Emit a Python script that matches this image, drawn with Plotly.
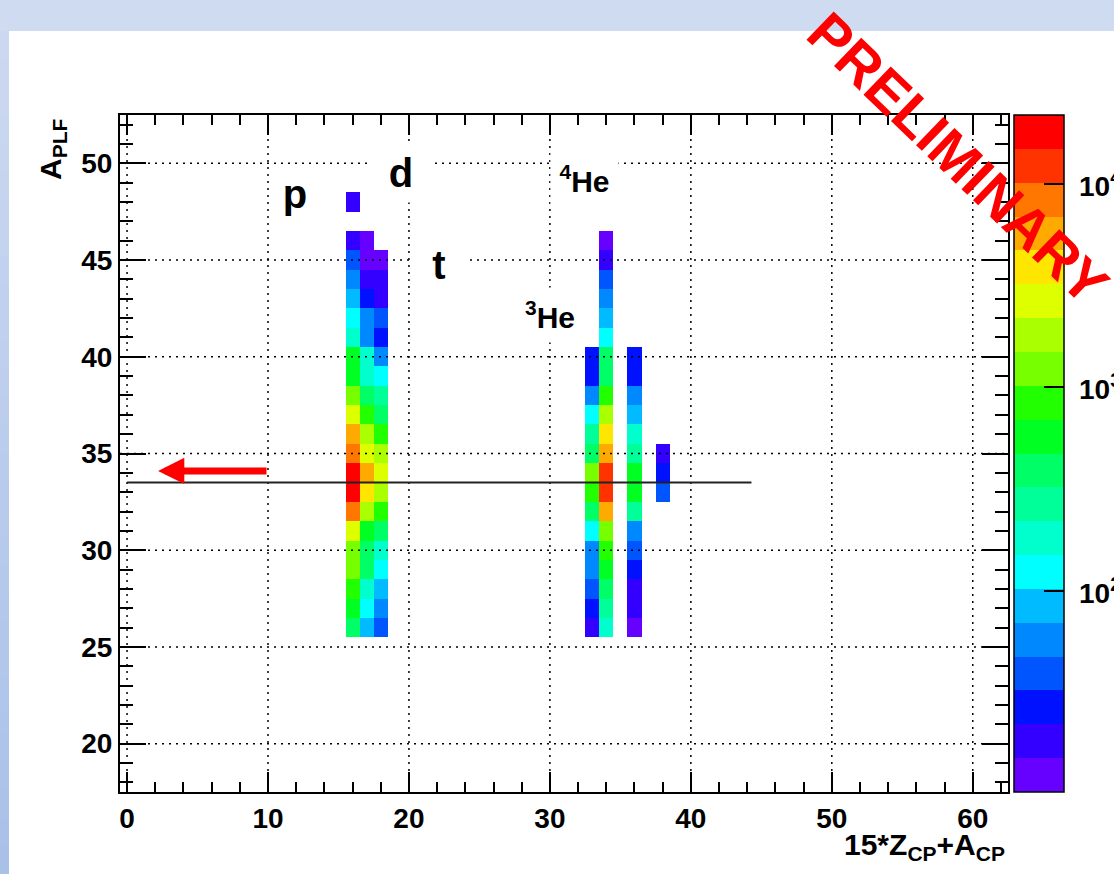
import numpy as np
import plotly.graph_objects as go

# ---------------------------------------------------------------
# Data: counts per (15*Z_CP+A_CP, A_PLF) bin, one list per column,
# listed from the lowest filled A_PLF bin upward.
# ---------------------------------------------------------------
x_bins = list(range(0, 63))          # 15*Z_CP+A_CP bin centres
y_bins = list(range(18, 53))         # A_PLF bin centres

col_x = [16, 17, 18, 33, 34, 36, 38]
col_first_y = [26, 26, 26, 26, 26, 26, 33]

counts_x16 = [390, 560, 830, 1220, 1290, 2600, 8100, 17500, 16800, 7900, 5600,
              2700, 1200, 590, 560, 180, 125, 86, 57, 40, 18, 0, 17]
counts_x17 = [84, 128, 185, 380, 400, 610, 1750, 3900, 5500, 2700, 1850,
              860, 395, 178, 190, 60, 55, 27, 19, 12, 11]
counts_x18 = [38, 56, 88, 120, 175, 385, 820, 1780, 2550, 1700, 870,
              405, 262, 130, 62, 26, 41, 18, 17, 12]
counts_x33 = [18, 26, 40, 55, 60, 122, 385, 810, 1260, 410, 270,
              130, 57, 28, 27]
counts_x34 = [180, 265, 390, 580, 850, 1280, 5800, 12500, 12000, 5600, 3800,
              1820, 830, 380, 400, 126, 83, 59, 38, 19, 12]
counts_x36 = [12, 18, 19, 27, 40, 58, 260, 560, 590, 275, 180,
              85, 57, 27, 28]
counts_x38 = [39, 27, 18]

col_counts = [counts_x16, counts_x17, counts_x18, counts_x33,
              counts_x34, counts_x36, counts_x38]

# colour-axis (log10 of counts) extent and the 20-level rainbow palette
z_min_count = 10.3
z_max_count = 21800
palette = ["#6600ff", "#3300ff", "#0011ff", "#0055ff", "#0088ff",
           "#00bbff", "#00ffff", "#00ffcc", "#00ff99", "#00ff66",
           "#00ff22", "#22ff00", "#77ff00", "#aaff00", "#ddff00",
           "#ffe600", "#ffaa00", "#ff7700", "#ff3300", "#ff0000"]

cbar_major = [100, 1000, 10000]
cbar_major_text = ["10<sup>2</sup>", "10<sup>3</sup>", "10<sup>4</sup>"]

# particle identification labels: (text, x, y, font size, box w, box h)
pid_labels = [("p", 11.92, 48.4, 40, 40, 44),
              ("d", 19.44, 49.50, 40, 64, 58),
              ("t", 22.13, 44.74, 40, 52, 54),
              ("<sup>3</sup>He", 30.00, 42.16, 30, 70, 54),
              ("<sup>4</sup>He", 32.46, 49.19, 30, 67, 54)]

cut_y = 33.5
cut_x_end = 44.3
arrow_tail_x, arrow_tip_x, arrow_y = 10.0, 2.2, 34.1

# ---------------------------------------------------------------
# Build the 2D histogram
# ---------------------------------------------------------------
z = np.full((len(y_bins), len(x_bins)), np.nan)
for cx, y0, vals in zip(col_x, col_first_y, col_counts):
    for k, v in enumerate(vals):
        if v > 0:
            z[y_bins.index(y0 + k), x_bins.index(cx)] = v

logz = np.log10(z)
zmin, zmax = np.log10(z_min_count), np.log10(z_max_count)

n = len(palette)
colorscale = []
for i, c in enumerate(palette):
    colorscale.append([i / n, c])
    colorscale.append([(i + 1) / n, c])

FONT = "Liberation Sans, Arial, Helvetica, sans-serif"

W, H = 1114, 874
L, R, T, B = 120, 106, 115, 82
pw, ph = W - L - R, H - T - B


def px_x(p):
    return (p - L) / pw


def px_y(p):
    return (H - B - p) / ph


def cb_frac(v):
    return (np.log10(v) - zmin) / (zmax - zmin)


fig = go.Figure()
fig.add_trace(go.Heatmap(
    x=x_bins, y=y_bins, z=logz, zmin=zmin, zmax=zmax,
    colorscale=colorscale, hoverinfo="skip",
    colorbar=dict(
        x=px_x(1014), xanchor="left", xref="paper",
        y=0.5, yanchor="middle", len=1, lenmode="fraction",
        thickness=50, thicknessmode="pixels", xpad=0, ypad=0,
        outlinecolor="black", outlinewidth=1.5,
        ticks="inside", ticklen=20, tickwidth=1.5, tickcolor="black",
        tickvals=list(np.log10(cbar_major)), showticklabels=False,
    ),
))

shapes = []
# slide background: white panel with a pale blue frame on the top/left
shapes.append(dict(type="rect", xref="paper", yref="paper",
                   x0=px_x(9), x1=px_x(W + 5), y0=px_y(H + 5), y1=px_y(31),
                   fillcolor="white", line=dict(width=0), layer="below"))
nb = 30
c_top = np.array([0xcd, 0xd9, 0xf0])
c_bot = np.array([0xa9, 0xc1, 0xe9])
for i in range(nb):
    ya = 31 + (H - 31) * i / nb
    yb = 31 + (H - 31) * (i + 1) / nb
    c = c_top + (c_bot - c_top) * (i + 0.5) / nb
    shapes.append(dict(type="rect", xref="paper", yref="paper",
                       x0=px_x(-2), x1=px_x(9), y0=px_y(yb + 1), y1=px_y(ya),
                       fillcolor="rgb(%d,%d,%d)" % tuple(c.astype(int)),
                       line=dict(width=0), layer="below"))

# dotted grid drawn over the cells
grid_line = dict(color="black", width=1.5, dash="2px,5px")
for gx in range(0, 61, 10):
    shapes.append(dict(type="line", xref="x", yref="y", x0=gx, x1=gx,
                       y0=17.5, y1=52.5, line=grid_line, layer="above"))
for gy in range(20, 51, 5):
    shapes.append(dict(type="line", xref="x", yref="y", x0=-0.5, x1=62.5,
                       y0=gy, y1=gy, line=grid_line, layer="above"))

# selection line
shapes.append(dict(type="line", xref="x", yref="y", x0=0, x1=cut_x_end,
                   y0=cut_y, y1=cut_y, line=dict(color="#222222", width=2),
                   layer="above"))

# minor ticks on the colour bar
cb_right = px_x(1064)
for dec in (10, 100, 1000, 10000):
    for m in range(2, 10):
        v = dec * m
        if v < z_min_count or v > z_max_count:
            continue
        shapes.append(dict(type="line", xref="paper", yref="paper",
                           x0=cb_right - 9 / pw, x1=cb_right,
                           y0=cb_frac(v), y1=cb_frac(v),
                           line=dict(color="black", width=1.5), layer="above"))

annotations = []
for txt, ax_, ay_, fs, bw, bh in pid_labels:
    annotations.append(dict(
        x=ax_, y=ay_, xref="x", yref="y", text="<b>%s</b>" % txt,
        showarrow=False, bgcolor="white", borderpad=0,
        width=bw, height=bh, xanchor="center", yanchor="middle",
        font=dict(family=FONT, size=fs, color="black")))

annotations.append(dict(
    x=arrow_tip_x, y=arrow_y, ax=arrow_tail_x, ay=arrow_y,
    xref="x", yref="y", axref="x", ayref="y", text="",
    showarrow=True, arrowhead=2, arrowsize=0.75, arrowwidth=7,
    arrowcolor="red", standoff=0))

# colour bar labels
for v, txt in zip(cbar_major, cbar_major_text):
    annotations.append(dict(
        x=px_x(1077), y=cb_frac(v), xref="paper", yref="paper",
        text="<b>%s</b>" % txt, showarrow=False,
        xanchor="left", yanchor="middle",
        font=dict(family=FONT, size=28, color="black")))

# axis titles
annotations.append(dict(
    x=px_x(52), y=px_y(116), xref="paper", yref="paper",
    text="<b>A<sub>PLF</sub></b>", textangle=-90, showarrow=False,
    xanchor="center", yanchor="top",
    font=dict(family=FONT, size=30, color="black")))
annotations.append(dict(
    x=px_x(1007), y=px_y(846), xref="paper", yref="paper",
    text="<b>15*Z<sub>CP</sub>+A<sub>CP</sub></b>", showarrow=False,
    xanchor="right", yanchor="middle",
    font=dict(family=FONT, size=30, color="black")))

# watermark
annotations.append(dict(
    x=px_x(958), y=px_y(158), xref="paper", yref="paper",
    text="<b>PRELIMINARY</b>", textangle=44, showarrow=False,
    xanchor="center", yanchor="middle",
    font=dict(family=FONT, size=57, color="red")))

axis_common = dict(
    showline=True, linecolor="black", linewidth=2, mirror="ticks",
    ticks="inside", tickcolor="black", tickwidth=1.5,
    showgrid=False, zeroline=False,
    tickfont=dict(family=FONT, size=28, color="black", weight="bold"),
)

fig.update_layout(
    width=W, height=H,
    margin=dict(l=L, r=R, t=T, b=B, pad=0, autoexpand=False),
    paper_bgcolor="#cfdbf1", plot_bgcolor="white",
    showlegend=False,
    xaxis=dict(range=[-0.5, 62.5], tickvals=list(range(0, 61, 10)),
               ticklen=20, minor=dict(dtick=2, tick0=0, ticklen=10,
                                      ticks="inside", tickcolor="black",
                                      tickwidth=1.5),
               **axis_common),
    yaxis=dict(range=[17.5, 52.5], tickvals=list(range(20, 51, 5)),
               ticklen=26, minor=dict(dtick=1, tick0=0, ticklen=13,
                                      ticks="inside", tickcolor="black",
                                      tickwidth=1.5),
               **axis_common),
    shapes=shapes, annotations=annotations,
)

fig.write_html("out.html")
